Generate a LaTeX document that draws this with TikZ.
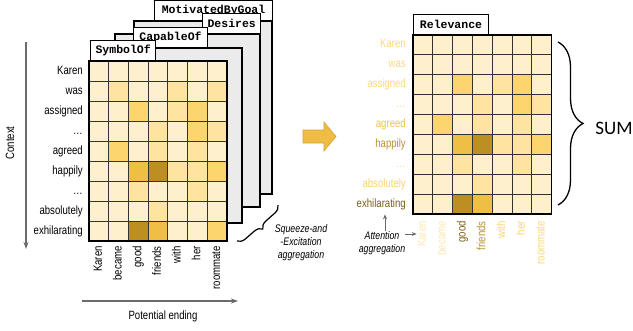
\documentclass[tikz,border=0pt]{standalone}
\usepackage{fontspec}
\setmainfont{Liberation Sans}
\newfontfamily\narrowsans[FakeStretch=0.8]{Liberation Sans}
\newfontfamily\tabmono{Liberation Mono}
\newfontfamily\sumsans{Carlito}
\usepackage{tikz}
\usetikzlibrary{arrows.meta, positioning, decorations.pathreplacing}
\usepackage{xcolor}

\definecolor{heat0}{HTML}{FFF0CD}
\definecolor{heat1}{HTML}{FFE4A1}
\definecolor{heat2}{HTML}{FDD56E}
\definecolor{heat3}{HTML}{EFBE45}
\definecolor{heat4}{HTML}{BD8E22}
\definecolor{sheetgray}{HTML}{EBEBEB}
\definecolor{axisgray}{HTML}{6B6B6B}
\definecolor{arrowgold}{HTML}{EFBD45}
\definecolor{arrowedge}{HTML}{D4A232}
\definecolor{lblpale}{HTML}{FDE6AE}
\definecolor{lbllight}{HTML}{FCD77C}
\definecolor{lblyel}{HTML}{FAD36A}
\definecolor{lblmid}{HTML}{F0C24A}
\definecolor{lblgold}{HTML}{B8902E}
\definecolor{lbldark}{HTML}{7A5E1A}

\begin{document}
\begin{tikzpicture}[x=1pt, y=-1pt]
            \tikzstyle{sheet} = [draw=black, line width=1.1pt, fill=sheetgray]
            \tikzstyle{tab} = [draw=black, line width=1.1pt, fill=white, font=\tabmono\bfseries\fontsize{11.5}{12}\selectfont, inner xsep=5pt, inner ysep=0pt, minimum height=20pt, anchor=south west]
            \tikzstyle{cell} = [draw=black!80, line width=0.9pt]
            \tikzstyle{word} = [font=\narrowsans\fontsize{12}{14}\selectfont, inner sep=0pt, text height=9pt, text depth=3pt]
            \tikzstyle{note} = [font=\narrowsans\itshape\fontsize{11}{13}\selectfont, align=center, inner sep=0pt]
            \tikzstyle{axis} = [draw=axisgray, line width=1.1pt, -{Stealth[length=7pt, width=5pt]}]
            \tikzstyle{pointer} = [draw=axisgray, line width=1pt, -{Stealth[length=5pt, width=4pt]}]
            \tikzstyle{brace} = [draw=black, line width=1.2pt, decorate]

            \useasboundingbox (0,0) rectangle (633,330);

            % stacked relation sheets
            \draw[sheet] (134,21) rectangle (272,194);
            \node[tab, minimum width=118pt] (mbgtab) at (154,21) {MotivatedByGoal};
            \draw[sheet] (115,34) rectangle (260,207);
            \node[tab, minimum width=57pt] (destab) at (202,34) {Desires};
            \draw[sheet] (100,48) rectangle (242,223);
            \node[tab, minimum width=74pt] (captab) at (133,48) {CapableOf};

            % front heatmap
            \begin{scope}[shift={(89,61)}]
                \foreach \vals [count=\r from 0] in {{0,0,0,0,0,0,0},{0,1,0,0,1,0,1},{0,0,2,0,1,2,0},{0,0,0,1,0,2,1},{0,2,0,1,0,1,0},{0,0,3,4,1,1,2},{0,0,1,0,0,1,0},{0,0,0,1,0,0,0},{0,0,4,3,0,0,2}}
                    \foreach \v [count=\c from 0] in \vals
                        \filldraw[cell, fill=heat\v] ({\c*19.7},{\r*20}) rectangle ++(19.7,20);
            \end{scope}
            \draw[line width=1.3pt] (89,61) rectangle (227,241);
            \node[tab, minimum width=65pt] (symtab) at (90,61) {SymbolOf};

            % labels of the front heatmap
            \foreach \w [count=\i from 0] in {Karen,was,assigned,\ldots,agreed,happily,\ldots,absolutely,exhilarating}
                \node[word, anchor=east] (lrow\i) at (83,{71+20*\i}) {\w};
            \foreach \w [count=\j from 0] in {Karen,became,good,friends,with,her,roommate}
                \node[word, rotate=90, anchor=east] (lcol\j) at ({98.85+19.7*\j},246) {\w};

            % axes
            \coordinate (ctxtop) at (26,42);
            \coordinate (ctxbot) at (26,249);
            \draw[axis] (ctxtop) -- (ctxbot);
            \node[word, rotate=90] (ctxlabel) at (11,143) {Context};
            \coordinate (pestart) at (82,301);
            \coordinate (peend) at (238,301);
            \draw[axis] (pestart) -- (peend);
            \node[word] (pelabel) at (163,316) {Potential ending};

            % squeeze-and-excitation
            \draw[brace, decoration={brace, amplitude=8pt}] (278,205) -- (237,241);
            \node[note] (selabel) at (301,243) {Squeeze-and\\-Excitation\\aggregation};

            % big arrow
            \filldraw[fill=arrowgold, draw=arrowedge, line width=0.6pt] (303,130) -- (324,130) -- (324,122) -- (336,136.5) -- (324,151) -- (324,143) -- (303,143) -- cycle;

            % relevance heatmap
            \begin{scope}[shift={(413,35)}]
                \foreach \vals [count=\r from 0] in {{0,0,0,0,0,0,0},{0,0,0,0,0,0,0},{0,0,2,0,1,2,0},{0,0,0,1,0,2,1},{0,2,0,1,0,1,0},{0,0,3,4,1,1,2},{0,0,1,0,0,1,0},{0,0,0,1,0,0,0},{0,0,4,3,0,0,0}}
                    \foreach \v [count=\c from 0] in \vals
                        \filldraw[cell, fill=heat\v] ({\c*19.8},{\r*19.9}) rectangle ++(19.8,19.9);
            \end{scope}
            \draw[line width=1.3pt] (413,35) rectangle (551.6,214.1);
            \node[tab, minimum width=75pt] (reltab) at (413,35) {Relevance};

            \foreach \w/\col [count=\i from 0] in {Karen/lbllight,was/lbllight,assigned/lbllight,\ldots/lbllight,agreed/lblmid,happily/lblgold,\ldots/lbllight,absolutely/lblyel,exhilarating/lbldark}
                \node[word, anchor=east, text=\col] (rrow\i) at (406,{44.95+19.9*\i}) {\w};
            \foreach \w/\col [count=\j from 0] in {Karen/lblpale,became/lblpale,good/lbldark,friends/lblgold,with/lblyel,her/lblyel,roommate/lbllight}
                \node[word, rotate=90, anchor=east, text=\col] (rcol\j) at ({422.9+19.8*\j},221) {\w};

            % attention aggregation
            \node[note] (attn) at (382,243) {Attention\\aggregation};
            \draw[pointer, shorten >=4pt] ([xshift=3pt]attn.north) -- ([xshift=3pt]attn.north |- rrow8.south);
            \draw[pointer] (attn.east |- rcol0.north) -- (rcol0.north);

            % sum
            \draw[brace, line width=1.3pt, decoration={brace, amplitude=25pt}] (558,42) -- (558,205);
            \node[font=\sumsans\fontsize{19}{20}\selectfont, inner sep=0pt] (sum) at (614,128) {SUM};
        \end{tikzpicture}
\end{document}
